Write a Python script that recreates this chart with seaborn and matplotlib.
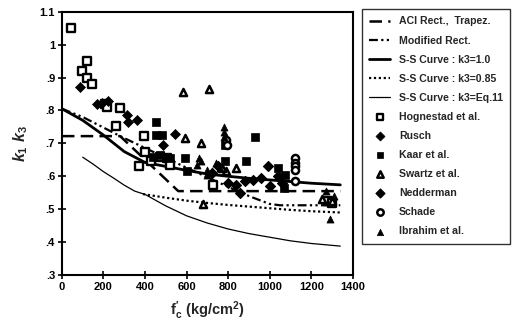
import matplotlib
matplotlib.use("Agg")
import matplotlib.pyplot as plt
import seaborn as sns
import pandas as pd

# ---------------- data ----------------
x_ticks = [0, 200, 400, 600, 800, 1000, 1200, 1400]
y_ticks = [0.3, 0.4, 0.5, 0.6, 0.7, 0.8, 0.9, 1.0, 1.1]
y_tick_labels = ['.3', '.4', '.5', '.6', '.7', '.8', '.9', '1', '1.1']

aci_f = [0, 280, 560, 1340]
aci_v = [0.722, 0.722, 0.555, 0.555]

mod_f = [0, 100, 200, 280, 400, 500, 600, 700, 800, 900, 1000, 1050, 1340]
mod_v = [0.805, 0.78, 0.748, 0.722, 0.686, 0.656, 0.626, 0.597, 0.568, 0.54, 0.516, 0.512, 0.512]

ss1_f = [0, 100, 200, 300, 400, 500, 600, 700, 800, 900, 1000, 1100, 1200, 1340]
ss1_v = [0.805, 0.77, 0.725, 0.675, 0.642, 0.63, 0.618, 0.607, 0.6, 0.594, 0.589, 0.584, 0.579, 0.574]

ss085_f = [390, 500, 600, 700, 800, 900, 1000, 1100, 1200, 1340]
ss085_v = [0.546, 0.535, 0.526, 0.519, 0.513, 0.508, 0.503, 0.498, 0.494, 0.49]

sseq_f = [100, 150, 200, 250, 300, 350, 400, 500, 600, 700, 800, 900, 1000, 1100, 1200, 1340]
sseq_v = [0.658, 0.637, 0.614, 0.594, 0.573, 0.555, 0.545, 0.51, 0.48, 0.458, 0.44, 0.426, 0.415, 0.404, 0.396, 0.388]

hog_f = [42, 98, 119, 119, 146, 205, 215, 279, 260, 393, 400, 370, 430, 470, 505, 520, 728, 1280, 1300]
hog_v = [1.05, 0.92, 0.95, 0.90, 0.88, 0.82, 0.81, 0.808, 0.754, 0.722, 0.675, 0.632, 0.645, 0.66, 0.655, 0.635, 0.575, 0.525, 0.52]

rus_f = [87, 167, 191, 223, 314, 319, 359, 487, 543]
rus_v = [0.872, 0.82, 0.823, 0.828, 0.785, 0.765, 0.772, 0.694, 0.727]

kaar_f = [452, 455, 480, 440, 470, 500, 520, 592, 600, 784, 784, 888, 928, 1040, 1072, 1070]
kaar_v = [0.764, 0.725, 0.725, 0.66, 0.665, 0.66, 0.655, 0.655, 0.615, 0.695, 0.645, 0.645, 0.718, 0.625, 0.605, 0.565]

swz_f = [583, 707, 593, 668, 680, 790, 840, 770, 1250, 1300]
swz_v = [0.857, 0.865, 0.715, 0.70, 0.515, 0.615, 0.625, 0.625, 0.53, 0.525]

ned_f = [720, 750, 800, 840, 856, 880, 920, 960, 992, 1000, 1040, 1060]
ned_v = [0.61, 0.63, 0.58, 0.575, 0.55, 0.585, 0.59, 0.595, 0.63, 0.57, 0.6, 0.58]

sch_f = [1120, 1120, 1120, 1120, 1120, 790, 795]
sch_v = [0.655, 0.64, 0.63, 0.62, 0.587, 0.71, 0.695]

ibr_f = [650, 660, 668, 700, 700, 720, 740, 760, 780, 780, 780, 1290, 1270, 1310]
ibr_v = [0.635, 0.655, 0.645, 0.62, 0.605, 0.615, 0.64, 0.625, 0.75, 0.735, 0.72, 0.47, 0.555, 0.54]

# ---------------- style ----------------
sns.set_style("ticks")
plt.rcParams['font.family'] = ['Liberation Sans', 'DejaVu Sans']
plt.rcParams['font.weight'] = 'bold'
plt.rcParams['mathtext.fontset'] = 'custom'
plt.rcParams['mathtext.rm'] = 'Liberation Sans:bold'
plt.rcParams['mathtext.bf'] = 'Liberation Sans:bold'
plt.rcParams['mathtext.it'] = 'Liberation Sans:italic:bold'

fig = plt.figure(figsize=(5.12, 3.24), dpi=100)
ax = fig.add_axes([0.121, 0.151, 0.568, 0.813])

lw_kw = dict(color='black', ax=ax, sort=False, estimator=None)
sns.lineplot(x=aci_f, y=aci_v, label='ACI Rect.,  Trapez.', lw=1.8, **lw_kw)
sns.lineplot(x=mod_f, y=mod_v, label='Modified Rect.', lw=1.6, **lw_kw)
sns.lineplot(x=ss1_f, y=ss1_v, label='S-S Curve : k3=1.0', lw=2.0, **lw_kw)
sns.lineplot(x=ss085_f, y=ss085_v, label='S-S Curve : k3=0.85', lw=1.6, **lw_kw)
sns.lineplot(x=sseq_f, y=sseq_v, label='S-S Curve : k3=Eq.11', lw=0.9, **lw_kw)
lines = ax.get_lines()
lines[0].set_dashes([5, 2.5])
lines[1].set_dashes([4, 1.5, 1, 1.5, 1, 1.5])
lines[3].set_dashes([1, 1.2])

sc_kw = dict(ax=ax, s=26, zorder=3)
sns.scatterplot(x=hog_f, y=hog_v, marker='s', color='white', edgecolor='black', linewidth=1.7, label='Hognestad et al.', **sc_kw)
sns.scatterplot(x=rus_f, y=rus_v, marker='D', color='black', edgecolor='black', linewidth=0.5, label='Rusch', **sc_kw)
sns.scatterplot(x=kaar_f, y=kaar_v, marker='s', color='black', edgecolor='black', linewidth=0.5, label='Kaar et al.', **sc_kw)
sns.scatterplot(x=swz_f, y=swz_v, marker='^', color='white', edgecolor='black', linewidth=1.8, label='Swartz et al.', **sc_kw)
sns.scatterplot(x=ned_f, y=ned_v, marker='D', color='black', edgecolor='black', linewidth=0.8, label='Nedderman', **sc_kw)
sns.scatterplot(x=sch_f, y=sch_v, marker='o', color='white', edgecolor='black', linewidth=1.8, label='Schade', **sc_kw)
sns.scatterplot(x=ibr_f, y=ibr_v, marker='^', color='black', edgecolor='black', linewidth=0.5, label='Ibrahim et al.', **sc_kw)

ax.set_xlim(0, 1400)
ax.set_ylim(0.3, 1.1)
ax.set_xticks(x_ticks)
ax.set_xticklabels([str(t) for t in x_ticks])
ax.set_yticks(y_ticks)
ax.set_yticklabels(y_tick_labels)
ax.tick_params(direction='inout', length=6, width=1.2, labelsize=8, pad=2, colors='black')
for t in ax.get_xticklabels() + ax.get_yticklabels():
    t.set_fontweight('bold')
for sp in ax.spines.values():
    sp.set_visible(True)
    sp.set_linewidth(1.5)
    sp.set_color('black')

ax.set_xlabel(r"$\mathbf{f_c^{\prime}}$ (kg/cm$^\mathbf{2}$)", fontsize=10.5, fontweight='bold', labelpad=5)
ax.set_ylabel(r"$k_1\ k_3$", fontsize=11.5, labelpad=7)

handles, labels = ax.get_legend_handles_labels()
ax.get_legend().remove()
leg = fig.legend(handles, labels, loc='upper left', bbox_to_anchor=(0.707, 0.972),
                 frameon=True, fancybox=False, edgecolor='black', fontsize=7.6,
                 labelspacing=0.86, handlelength=2.0, handletextpad=0.8,
                 borderpad=0.7, borderaxespad=0, markerscale=0.9)
leg.get_frame().set_linewidth(1.0)
for t in leg.get_texts():
    t.set_fontweight('bold')

fig.savefig("out.png", dpi=100)
